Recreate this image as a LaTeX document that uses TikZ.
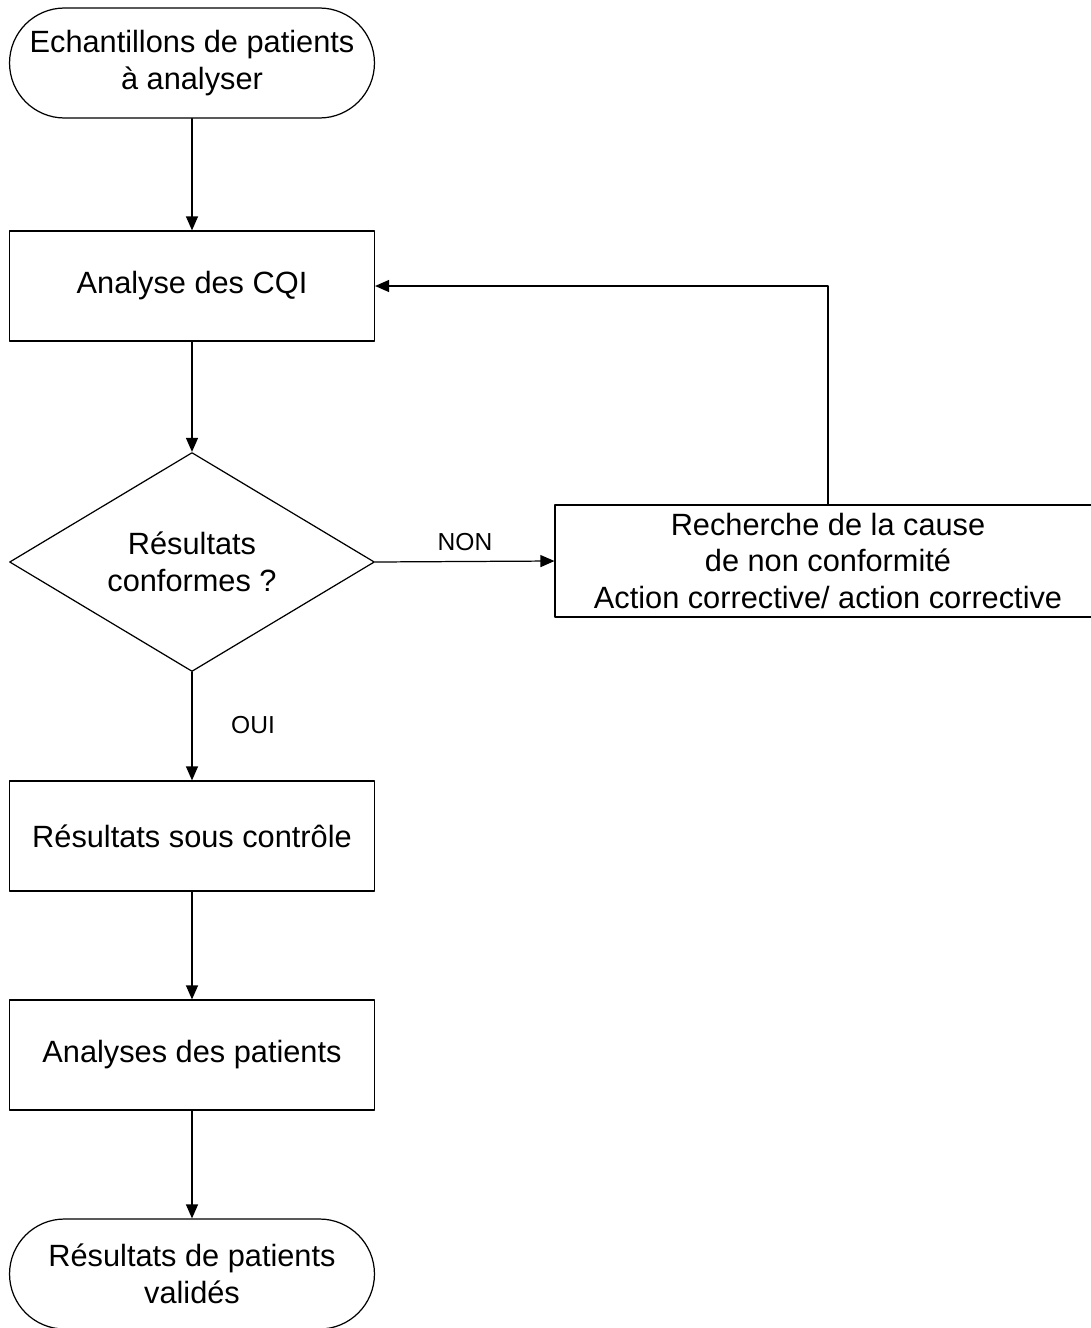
\documentclass[tikz,border=0pt]{standalone}
\usepackage{fontspec}
\setmainfont{Liberation Sans}
\usetikzlibrary{shapes.geometric,arrows.meta}

\begin{document}
\begin{tikzpicture}[x=0.02cm,y=-0.02cm,line cap=round,line join=round,
  every node/.style={font=\fontsize{17.5}{21}\selectfont},
  box/.style={draw,line width=0.7pt,minimum width=7.3cm,minimum height=2.2cm,inner sep=0pt,align=center},
  term/.style={box,rounded corners=1.1cm},
  test/.style={draw,diamond,line width=0.7pt,shape aspect=1.667,minimum width=7.3cm,minimum height=4.38cm,inner sep=-4pt,align=center},
  lbl/.style={font=\fontsize{14}{16}\selectfont},
  flow/.style={line width=0.7pt,-{Triangle[length=0.28cm,width=0.24cm]}}]
  \useasboundingbox (0,0) rectangle (1091,1328);
  \node[term] (ech) at (192,63) {Echantillons de patients\\à analyser};
  \node[box] (cqi) at (192,286) {Analyse des CQI};
  \node[test] (conf) at (192,562) {Résultats\\conformes ?};
  \node[box,minimum width=10.92cm,minimum height=2.24cm] (cause) at (828,561)
    {Recherche de la cause\\de non conformité\\Action corrective/ action corrective};
  \node[box] (ctrl) at (192,836) {Résultats sous contrôle};
  \node[box] (pat) at (192,1055) {Analyses des patients};
  \node[term] (valid) at (192,1274) {Résultats de patients\\validés};
  \draw[flow] (ech) -- (cqi);
  \draw[flow] (cqi) -- (conf);
  \draw[flow] (conf.east) -- (cause.west);
  \draw[flow] (cause.north) |- (cqi.east);
  \draw[flow] (conf) -- (ctrl);
  \draw[flow] (ctrl) -- (pat);
  \draw[flow] (pat) -- (valid);
  \node[lbl] (non) at (465,542) {NON};
  \node[lbl] (oui) at (253,725) {OUI};
\end{tikzpicture}
\end{document}
